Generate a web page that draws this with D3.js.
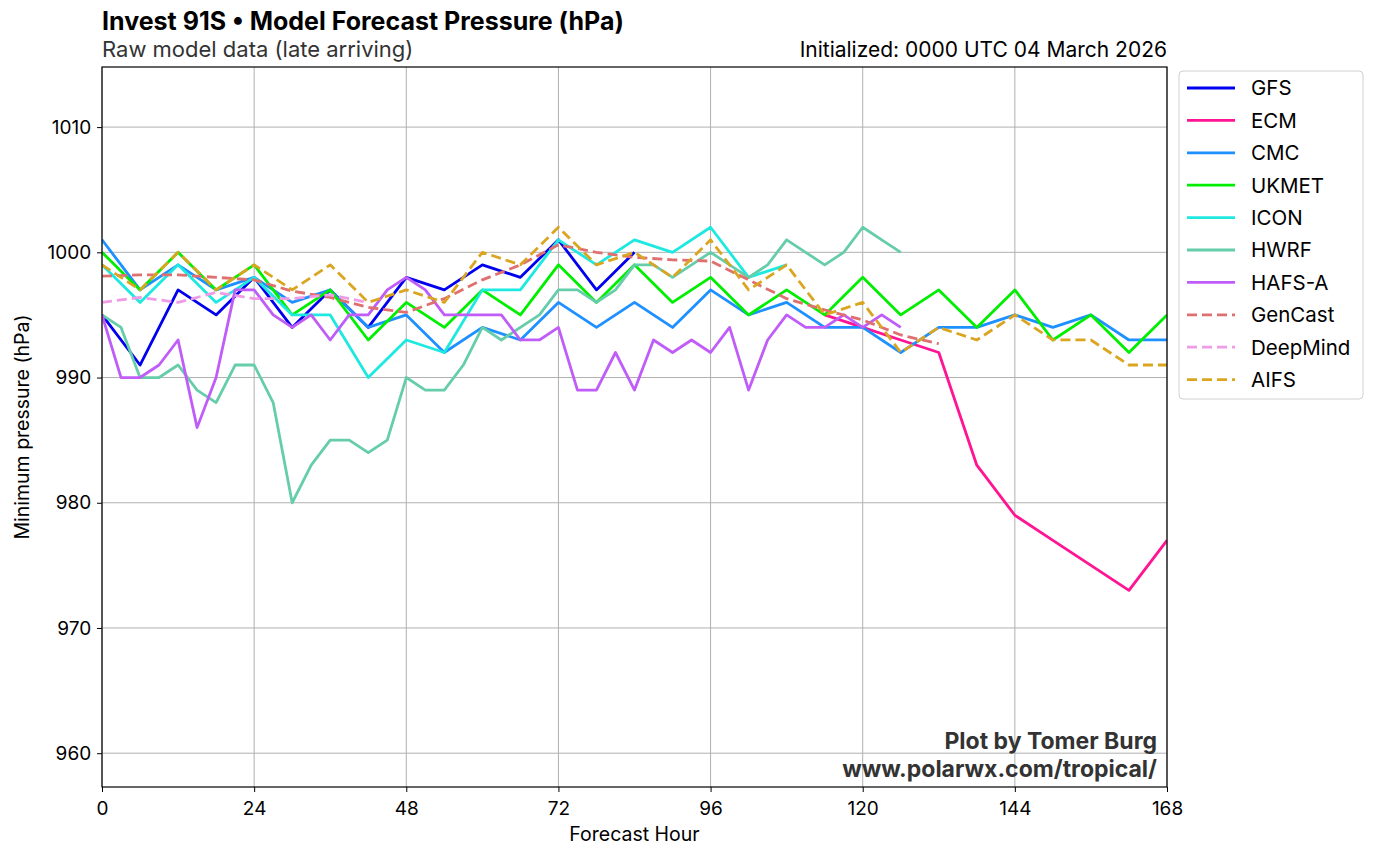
<!DOCTYPE html>
<html><head><meta charset="utf-8">
<script src="https://cdn.jsdelivr.net/npm/d3@7"></script>
<style>
body{margin:0;background:#fff;}
svg{font-family:Inter,"Noto Sans",sans-serif;}
</style></head><body>
<svg id="c" width="1376" height="858"></svg>
<script>
// ---- data ----
const models = ["GFS","ECM","CMC","UKMET","ICON","HWRF","HAFS-A","GenCast","DeepMind","AIFS"];
const colors = ["#0000ee","#ff1493","#1e90ff","#00ee00","#1de9e0","#66cdaa","#c05cf7","#e07070","#f09be6","#daa520"];
const dashed = [false,false,false,false,false,false,false,true,true,true];
const xTicks = [0,24,48,72,96,120,144,168];
const yTicks = [960,970,980,990,1000,1010];

const gfsHours = [0,6,12,18,24,30,36,42,48,54,60,66,72,78,84];
const gfsVals  = [995,991,997,995,998,994,997,994,998,997,999,998,1001,997,1000];

const ecmHours = [114,120,126,132,138,144,150,156,162,168];
const ecmVals  = [995,994,993,992,983,979,977,975,973,977];

const cmcHours = [0,6,12,18,24,30,36,42,48,54,60,66,72,78,84,90,96,102,108,114,120,126,132,138,144,150,156,162,168];
const cmcVals  = [1001,997,999,997,998,996,997,994,995,992,994,993,996,994,996,994,997,995,996,994,994,992,994,994,995,994,995,993,993];

const ukHours = [0,6,12,18,24,30,36,42,48,54,60,66,72,78,84,90,96,102,108,114,120,126,132,138,144,150,156,162,168];
const ukVals  = [1000,997,1000,997,999,995,997,993,996,994,997,995,999,996,999,996,998,995,997,995,998,995,997,994,997,993,995,992,995];

const iconHours = [0,6,12,18,24,30,36,42,48,54,60,66,72,78,84,90,96,102,108];
const iconVals  = [999,996,999,996,998,995,995,990,993,992,997,997,1001,999,1001,1000,1002,998,999];

const hwrfHours = [0,3,6,9,12,15,18,21,24,27,30,33,36,39,42,45,48,51,54,57,60,63,66,69,72,75,78,81,84,87,90,93,96,99,102,105,108,111,114,117,120,123,126];
const hwrfVals  = [995,994,990,990,991,989,988,991,991,988,980,983,985,985,984,985,990,989,989,991,994,993,994,995,997,997,996,997,999,999,998,999,1000,999,998,999,1001,1000,999,1000,1002,1001,1000];

const hafsHours = [0,3,6,9,12,15,18,21,24,27,30,33,36,39,42,45,48,51,54,57,60,63,66,69,72,75,78,81,84,87,90,93,96,99,102,105,108,111,114,117,120,123,126];
const hafsVals  = [995,990,990,991,993,986,990,997,997,995,994,995,993,995,995,997,998,997,995,995,995,995,993,993,994,989,989,992,989,993,992,993,992,994,989,993,995,994,994,995,994,995,994];

const genHours = [0,6,12,18,24,30,36,42,48,54,60,66,72,78,84,90,96,102,108,114,120,126,132];
const genVals  = [998.1,998.2,998.2,998.0,997.8,996.9,996.4,995.6,995.2,996.3,997.8,999.0,1000.6,1000.0,999.6,999.4,999.3,997.8,996.3,995.4,994.6,993.4,992.7];

const dmHours = [0,6,12,18,24,30,36,42];
const dmVals  = [996.0,996.4,996.0,996.8,996.3,996.3,996.6,996.0];

const aifsHours = [0,6,12,18,24,30,36,42,48,54,60,66,72,78,84,90,96,102,108,114,120,126,132,138,144,150,156,162,168];
const aifsVals  = [999,997,1000,997,999,997,999,996,997,996,1000,999,1002,999,1000,998,1001,997,999,995,996,992,994,993,995,993,993,991,991];

const seriesHours = [gfsHours,ecmHours,cmcHours,ukHours,iconHours,hwrfHours,hafsHours,genHours,dmHours,aifsHours];
const seriesVals  = [gfsVals,ecmVals,cmcVals,ukVals,iconVals,hwrfVals,hafsVals,genVals,dmVals,aifsVals];

// ---- layout ----
const svg = d3.select("#c");
const L=102, R=1167, T=67, B=787;
const x = d3.scaleLinear().domain([0,168]).range([L,R]);
const y = d3.scaleLinear().domain([957.3,1014.8]).range([B,T]);

// grid
const g = svg.append("g");
g.selectAll(".gx").data(xTicks).enter().append("line")
 .attr("x1",d=>x(d)).attr("x2",d=>x(d)).attr("y1",T).attr("y2",B)
 .attr("stroke","#b0b0b0").attr("stroke-width",1);
g.selectAll(".gy").data(yTicks).enter().append("line")
 .attr("x1",L).attr("x2",R).attr("y1",d=>y(d)).attr("y2",d=>y(d))
 .attr("stroke","#b0b0b0").attr("stroke-width",1);

// clip
svg.append("clipPath").attr("id","clip").append("rect").attr("x",L).attr("y",T).attr("width",R-L).attr("height",B-T);

const line = d3.line().x(d=>x(d[0])).y(d=>y(d[1]));
const lg = svg.append("g").attr("clip-path","url(#clip)");
models.forEach((m,i)=>{
  const pts = seriesHours[i].map((h,j)=>[h,seriesVals[i][j]]);
  lg.append("path").datum(pts).attr("d",line)
    .attr("fill","none").attr("stroke",colors[i]).attr("stroke-width",2.8)
    .attr("stroke-linejoin","round")
    .attr("stroke-dasharray",dashed[i]?"10,5":null);
});

// axes
const xa = svg.append("g").attr("transform",`translate(0,${B})`)
  .call(d3.axisBottom(x).tickValues(xTicks).tickSize(5).tickSizeOuter(0).tickFormat(d3.format("d")));
const ya = svg.append("g").attr("transform",`translate(${L},0)`)
  .call(d3.axisLeft(y).tickValues(yTicks).tickSize(5).tickSizeOuter(0).tickFormat(d3.format("d")));
[xa,ya].forEach(a=>{
  a.select(".domain").remove();
  a.selectAll("text").attr("font-size",19).attr("fill","#000").attr("font-family","Inter,sans-serif");
  a.selectAll("line").attr("stroke","#000");
});
xa.selectAll("text").attr("dy","1.05em");
ya.selectAll("text").attr("dx","-0.15em");

// frame
svg.append("rect").attr("x",L).attr("y",T).attr("width",R-L).attr("height",B-T)
  .attr("fill","none").attr("stroke","#000").attr("stroke-width",1.2);

// labels
svg.append("text").attr("x",(L+R)/2).attr("y",841).attr("text-anchor","middle")
  .attr("font-size",19.5).text("Forecast Hour");
svg.append("text").attr("transform",`translate(29,${(T+B)/2}) rotate(-90)`).attr("text-anchor","middle")
  .attr("font-size",19.5).text("Minimum pressure (hPa)");

// titles
svg.append("text").attr("x",L).attr("y",30).attr("font-size",25).attr("font-weight",700)
  .text("Invest 91S \u2022 Model Forecast Pressure (hPa)");
svg.append("text").attr("x",L).attr("y",57).attr("font-size",22).attr("fill","#333")
  .text("Raw model data (late arriving)");
svg.append("text").attr("x",R).attr("y",57).attr("font-size",21).attr("text-anchor","end")
  .text("Initialized: 0000 UTC 04 March 2026");

// credit
svg.append("text").attr("x",1157).attr("y",749).attr("text-anchor","end").attr("font-size",23)
  .attr("font-weight",700).attr("fill","#333").text("Plot by Tomer Burg");
svg.append("text").attr("x",1157).attr("y",777).attr("text-anchor","end").attr("font-size",23)
  .attr("font-weight",700).attr("fill","#333").text("www.polarwx.com/tropical/");

// legend
const leg = svg.append("g");
leg.append("rect").attr("x",1179).attr("y",71).attr("width",184).attr("height",328).attr("rx",4)
  .attr("fill","#fff").attr("stroke","#d0d0d0").attr("stroke-width",1);
models.forEach((m,i)=>{
  const yy = 88 + i*32.4;
  leg.append("line").attr("x1",1187).attr("x2",1235).attr("y1",yy).attr("y2",yy)
    .attr("stroke",colors[i]).attr("stroke-width",2.8)
    .attr("stroke-dasharray",dashed[i]?"10,5":null);
  leg.append("text").attr("x",1251).attr("y",yy).attr("dy","0.36em").attr("font-size",20.5).text(m);
});
</script>
</body></html>
